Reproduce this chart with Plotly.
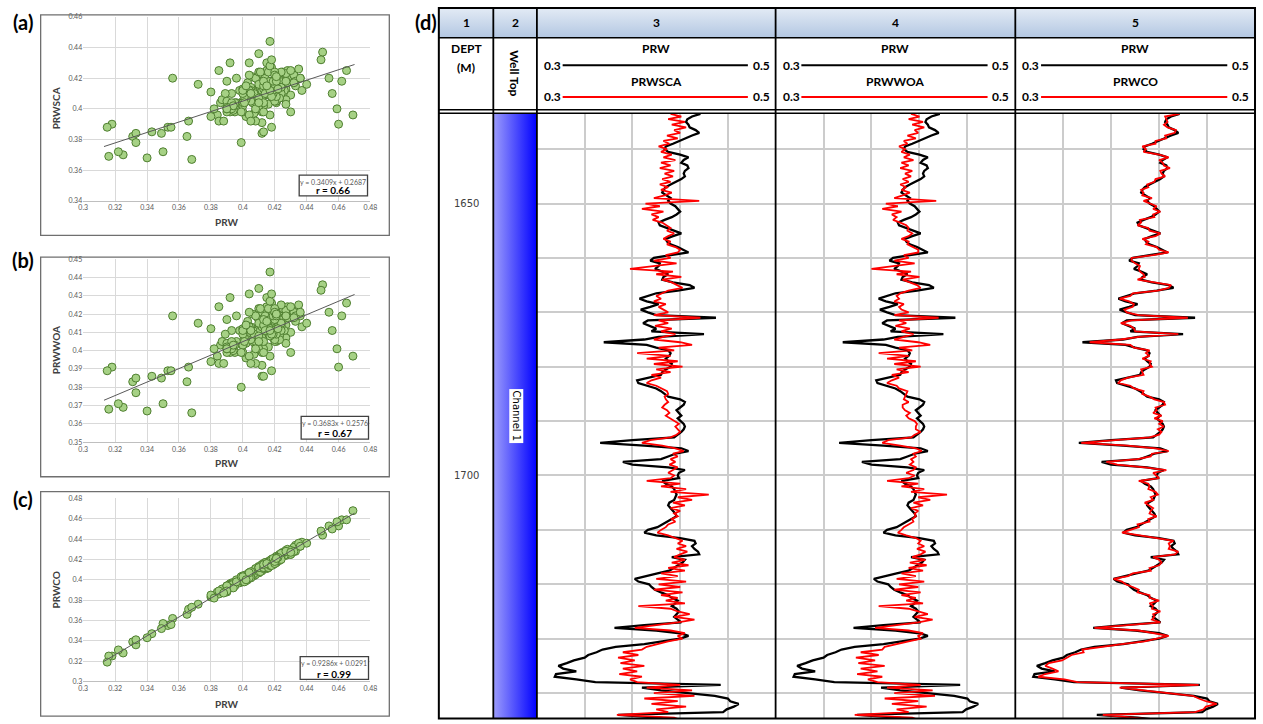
import plotly.graph_objects as go

# ---------------------------------------------------------------- data
DEPTH_TOP = 1633.5          # first log sample (m)
DEPTH_STEP = 0.5            # log sampling (m)

PRW = [
    0.437, 0.430, 0.426, 0.425, 0.427, 0.428, 0.433, 0.436, 0.430, 0.425,
    0.419, 0.414, 0.408, 0.407, 0.410, 0.420, 0.427, 0.423, 0.421, 0.426,
    0.427, 0.424, 0.423, 0.424, 0.421, 0.416, 0.412, 0.408, 0.406, 0.405,
    0.408, 0.412, 0.410, 0.412, 0.416, 0.418, 0.420, 0.417, 0.413, 0.407,
    0.402, 0.403, 0.409, 0.416, 0.421, 0.414, 0.408, 0.409, 0.412, 0.418,
    0.423, 0.427, 0.412, 0.398, 0.395, 0.403, 0.402, 0.399, 0.405, 0.410,
    0.406, 0.405, 0.414, 0.428, 0.432, 0.418, 0.400, 0.392, 0.386, 0.392,
    0.402, 0.395, 0.387, 0.393, 0.400, 0.450, 0.393, 0.389, 0.394, 0.400,
    0.396, 0.440, 0.402, 0.390, 0.356, 0.392, 0.400, 0.410, 0.412, 0.411,
    0.408, 0.410, 0.413, 0.412, 0.408, 0.405, 0.404, 0.395, 0.384, 0.385,
    0.393, 0.400, 0.404, 0.407, 0.410, 0.420, 0.424, 0.423, 0.420, 0.417,
    0.419, 0.421, 0.418, 0.421, 0.423, 0.424, 0.423, 0.421, 0.418, 0.415,
    0.380, 0.353, 0.390, 0.421, 0.427, 0.416, 0.410, 0.404, 0.372, 0.380,
    0.410, 0.424, 0.419, 0.418, 0.419, 0.405, 0.408, 0.413, 0.415, 0.416,
    0.417, 0.416, 0.415, 0.411, 0.410, 0.412, 0.414, 0.416, 0.417, 0.413,
    0.410, 0.405, 0.401, 0.393, 0.390, 0.400, 0.420, 0.432, 0.433, 0.430,
    0.432, 0.435, 0.436, 0.413, 0.424, 0.422, 0.418, 0.414, 0.411, 0.401,
    0.390, 0.382, 0.385, 0.394, 0.396, 0.399, 0.404, 0.410, 0.413, 0.418,
    0.416, 0.413, 0.417, 0.419, 0.417, 0.415, 0.418, 0.421, 0.390, 0.365,
    0.400, 0.420, 0.427, 0.420, 0.405, 0.390, 0.366, 0.355, 0.350, 0.343,
    0.340, 0.331, 0.325, 0.318, 0.322, 0.333, 0.316, 0.315, 0.333, 0.349,
    0.454, 0.388, 0.404, 0.430, 0.449, 0.460, 0.462, 0.469, 0.465, 0.459,
    0.456, 0.368, 0.402, 0.421,
]

PRWSCA = [
    0.412, 0.421, 0.410, 0.424, 0.413, 0.425, 0.415, 0.420, 0.409, 0.418,
    0.406, 0.411, 0.402, 0.409, 0.404, 0.413, 0.406, 0.416, 0.404, 0.412,
    0.403, 0.415, 0.407, 0.414, 0.405, 0.412, 0.403, 0.410, 0.404, 0.413,
    0.407, 0.398, 0.436, 0.391, 0.403, 0.388, 0.406, 0.396, 0.402, 0.397,
    0.405, 0.408, 0.412, 0.409, 0.415, 0.410, 0.406, 0.412, 0.409, 0.416,
    0.420, 0.418, 0.408, 0.412, 0.398, 0.417, 0.395, 0.378, 0.414, 0.400,
    0.421, 0.405, 0.413, 0.417, 0.422, 0.410, 0.405, 0.400, 0.404, 0.398,
    0.408, 0.402, 0.406, 0.410, 0.398, 0.437, 0.402, 0.410, 0.399, 0.413,
    0.404, 0.416, 0.406, 0.398, 0.420, 0.430, 0.402, 0.415, 0.384, 0.412,
    0.392, 0.418, 0.398, 0.422, 0.400, 0.412, 0.396, 0.404, 0.396, 0.392,
    0.400, 0.404, 0.409, 0.410, 0.407, 0.408, 0.410, 0.407, 0.405, 0.409,
    0.411, 0.408, 0.412, 0.415, 0.419, 0.416, 0.418, 0.420, 0.417, 0.412,
    0.395, 0.388, 0.405, 0.416, 0.423, 0.414, 0.418, 0.412, 0.416, 0.411,
    0.418, 0.414, 0.410, 0.415, 0.412, 0.392, 0.420, 0.404, 0.425, 0.412,
    0.444, 0.418, 0.430, 0.414, 0.424, 0.412, 0.420, 0.415, 0.418, 0.413,
    0.416, 0.410, 0.408, 0.404, 0.401, 0.410, 0.416, 0.422, 0.418, 0.425,
    0.417, 0.426, 0.420, 0.415, 0.424, 0.413, 0.427, 0.410, 0.424, 0.404,
    0.418, 0.400, 0.425, 0.402, 0.420, 0.398, 0.422, 0.404, 0.418, 0.408,
    0.424, 0.385, 0.412, 0.418, 0.428, 0.415, 0.432, 0.418, 0.400, 0.382,
    0.412, 0.424, 0.418, 0.422, 0.410, 0.400, 0.392, 0.388, 0.372, 0.385,
    0.368, 0.382, 0.370, 0.390, 0.372, 0.384, 0.369, 0.388, 0.378, 0.384,
    0.420, 0.392, 0.430, 0.398, 0.432, 0.390, 0.418, 0.396, 0.425, 0.400,
    0.410, 0.367, 0.415, 0.421,
]

PRWWOA = [
    0.413, 0.420, 0.411, 0.423, 0.414, 0.424, 0.416, 0.419, 0.410, 0.417,
    0.407, 0.410, 0.403, 0.408, 0.405, 0.412, 0.407, 0.415, 0.405, 0.411,
    0.404, 0.414, 0.408, 0.413, 0.406, 0.411, 0.404, 0.409, 0.405, 0.412,
    0.406, 0.399, 0.434, 0.392, 0.402, 0.389, 0.405, 0.397, 0.401, 0.398,
    0.404, 0.409, 0.411, 0.410, 0.414, 0.411, 0.405, 0.411, 0.410, 0.415,
    0.419, 0.419, 0.407, 0.411, 0.399, 0.416, 0.396, 0.380, 0.413, 0.401,
    0.420, 0.406, 0.412, 0.418, 0.421, 0.411, 0.404, 0.401, 0.403, 0.399,
    0.407, 0.403, 0.405, 0.411, 0.399, 0.436, 0.403, 0.409, 0.400, 0.412,
    0.405, 0.415, 0.407, 0.399, 0.419, 0.429, 0.403, 0.414, 0.386, 0.411,
    0.393, 0.417, 0.399, 0.421, 0.401, 0.411, 0.397, 0.403, 0.397, 0.393,
    0.401, 0.403, 0.410, 0.409, 0.408, 0.407, 0.411, 0.406, 0.406, 0.408,
    0.412, 0.409, 0.411, 0.416, 0.418, 0.417, 0.417, 0.421, 0.416, 0.413,
    0.394, 0.389, 0.404, 0.417, 0.422, 0.415, 0.417, 0.413, 0.415, 0.412,
    0.417, 0.415, 0.409, 0.416, 0.411, 0.393, 0.419, 0.405, 0.424, 0.413,
    0.443, 0.419, 0.429, 0.415, 0.423, 0.413, 0.419, 0.416, 0.417, 0.414,
    0.415, 0.411, 0.407, 0.405, 0.402, 0.409, 0.417, 0.421, 0.419, 0.424,
    0.418, 0.425, 0.421, 0.414, 0.425, 0.412, 0.426, 0.411, 0.423, 0.405,
    0.417, 0.401, 0.424, 0.403, 0.419, 0.399, 0.421, 0.405, 0.417, 0.409,
    0.423, 0.386, 0.411, 0.419, 0.427, 0.416, 0.431, 0.419, 0.401, 0.383,
    0.411, 0.423, 0.419, 0.421, 0.411, 0.401, 0.391, 0.389, 0.371, 0.386,
    0.367, 0.383, 0.369, 0.391, 0.371, 0.385, 0.368, 0.389, 0.377, 0.385,
    0.421, 0.393, 0.431, 0.399, 0.433, 0.391, 0.419, 0.397, 0.426, 0.401,
    0.411, 0.366, 0.414, 0.420,
]

PRWCO = [
    0.437, 0.425, 0.426, 0.427, 0.424, 0.427, 0.434, 0.433, 0.425, 0.426,
    0.417, 0.417, 0.406, 0.409, 0.407, 0.420, 0.428, 0.420, 0.423, 0.424,
    0.429, 0.421, 0.422, 0.425, 0.417, 0.416, 0.410, 0.411, 0.405, 0.407,
    0.406, 0.414, 0.407, 0.413, 0.418, 0.415, 0.421, 0.415, 0.416, 0.404,
    0.405, 0.402, 0.411, 0.412, 0.421, 0.417, 0.406, 0.411, 0.409, 0.418,
    0.420, 0.428, 0.415, 0.397, 0.397, 0.400, 0.404, 0.403, 0.404, 0.407,
    0.408, 0.402, 0.415, 0.430, 0.428, 0.419, 0.398, 0.396, 0.387, 0.395,
    0.399, 0.398, 0.391, 0.393, 0.403, 0.444, 0.397, 0.388, 0.396, 0.399,
    0.400, 0.436, 0.403, 0.388, 0.362, 0.396, 0.399, 0.412, 0.409, 0.412,
    0.406, 0.413, 0.412, 0.414, 0.405, 0.406, 0.407, 0.394, 0.388, 0.386,
    0.396, 0.399, 0.407, 0.406, 0.412, 0.416, 0.424, 0.425, 0.417, 0.418,
    0.415, 0.422, 0.416, 0.423, 0.420, 0.424, 0.419, 0.422, 0.420, 0.412,
    0.383, 0.355, 0.394, 0.417, 0.428, 0.414, 0.413, 0.402, 0.376, 0.385,
    0.408, 0.426, 0.415, 0.418, 0.420, 0.403, 0.411, 0.412, 0.411, 0.417,
    0.419, 0.413, 0.415, 0.408, 0.412, 0.415, 0.413, 0.412, 0.418, 0.411,
    0.412, 0.402, 0.403, 0.395, 0.389, 0.404, 0.417, 0.432, 0.428, 0.429,
    0.428, 0.436, 0.433, 0.415, 0.420, 0.422, 0.420, 0.412, 0.413, 0.398,
    0.394, 0.382, 0.389, 0.392, 0.398, 0.403, 0.402, 0.412, 0.412, 0.420,
    0.412, 0.415, 0.414, 0.421, 0.415, 0.416, 0.414, 0.421, 0.394, 0.366,
    0.403, 0.416, 0.428, 0.418, 0.408, 0.389, 0.371, 0.356, 0.357, 0.347,
    0.343, 0.339, 0.328, 0.325, 0.331, 0.336, 0.325, 0.319, 0.341, 0.352,
    0.453, 0.387, 0.407, 0.427, 0.448, 0.453, 0.459, 0.468, 0.459, 0.457,
    0.450, 0.373, 0.400, 0.421,
]

X_TICKS = [0.30, 0.32, 0.34, 0.36, 0.38, 0.40, 0.42, 0.44, 0.46, 0.48]
A_YTICKS = [0.34, 0.36, 0.38, 0.40, 0.42, 0.44, 0.46]
B_YTICKS = [0.35, 0.36, 0.37, 0.38, 0.39, 0.40, 0.41, 0.42, 0.43, 0.44, 0.45]
C_YTICKS = [0.30, 0.32, 0.34, 0.36, 0.38, 0.40, 0.42, 0.44, 0.46, 0.48]
FIT_SLOPES = [0.3409, 0.3683, 0.9286]
FIT_INTERCEPTS = [0.2687, 0.2576, 0.0291]
FIT_R = ["0.66", "0.67", "0.99"]
FIT_X = [0.313, 0.470]
SCATTER_NAMES = ["PRWSCA", "PRWWOA", "PRWCO"]
PANEL_LETTERS = ["(a)", "(b)", "(c)"]

TRACK_NUMBERS = ["1", "2", "3", "4", "5"]
TRACK_SCALE = [0.3, 0.5]
DEPTH_LABELS = [1650, 1700]
WELL_TOP_NAME = "Channel 1"
WELL_TOP_CENTER = 1689.0

# ---------------------------------------------------------------- helpers
W, H = 1263, 724
LATO = "Lato, 'Open Sans', sans-serif"


def px(x):
    return x / W


def py(y):
    return 1 - y / H


n = min(len(PRW), len(PRWSCA), len(PRWWOA), len(PRWCO))
DEPTH = [DEPTH_TOP + i * DEPTH_STEP for i in range(n)]
SERIES = [PRWSCA[:n], PRWWOA[:n], PRWCO[:n]]
PRWn = PRW[:n]

fig = go.Figure()
shapes = []
ann = []


def rect(x0, y0, x1, y1, color, width, fill="rgba(0,0,0,0)"):
    shapes.append(dict(type="rect", xref="paper", yref="paper",
                       x0=px(x0), x1=px(x1), y0=py(y1), y1=py(y0),
                       line=dict(color=color, width=width), fillcolor=fill,
                       layer="above"))


def seg(x0, y0, x1, y1, color, width):
    shapes.append(dict(type="line", xref="paper", yref="paper",
                       x0=px(x0), x1=px(x1), y0=py(y0), y1=py(y1),
                       line=dict(color=color, width=width), layer="above"))


def text(x, y, s, size, color="black", bold=False, angle=0, family=LATO,
         bg=None, xanchor="center"):
    a = dict(x=px(x), y=py(y), xref="paper", yref="paper", showarrow=False,
             text=f"<b>{s}</b>" if bold else s, textangle=angle,
             xanchor=xanchor, yanchor="middle",
             font=dict(size=size, color=color, family=family))
    if bg:
        a.update(bgcolor=bg, borderpad=1)
    ann.append(a)


layout_axes = {}

# ---------------------------------------------------------------- scatter panels
PANELS = [
    dict(frame=(36, 10, 388, 233), plot=(79, 12, 369, 198), eq=(297, 172, 366, 193),
         xt=219, yticks=A_YTICKS, letter_y=17),
    dict(frame=(36, 255, 388, 477), plot=(79, 257, 369, 442), eq=(299, 416, 367, 439),
         xt=463, yticks=B_YTICKS, letter_y=258),
    dict(frame=(36, 492, 388, 719), plot=(79, 499, 369, 684), eq=(298, 659, 367, 682),
         xt=707, yticks=C_YTICKS, letter_y=500),
]

for i, p in enumerate(PANELS):
    k = "" if i == 0 else str(i + 1)
    xr, yr = "x" + k, "y" + k
    x0, y0, x1, y1 = p["plot"]
    yt = p["yticks"]
    layout_axes["xaxis" + k] = dict(
        domain=[px(x0), px(x1)], range=[X_TICKS[0], X_TICKS[-1]], anchor=yr,
        tickvals=X_TICKS, ticktext=[f"{v:g}" for v in X_TICKS],
        showgrid=True, gridcolor="#d9d9d9", gridwidth=1, zeroline=False,
        showline=True, linecolor="#bfbfbf", linewidth=1, ticks="",
        tickfont=dict(size=7, color="#595959", family=LATO))
    layout_axes["yaxis" + k] = dict(
        domain=[py(y1), py(y0)], range=[yt[0], yt[-1]], anchor=xr,
        tickvals=yt, ticktext=[f"{v:g}" for v in yt],
        showgrid=True, gridcolor="#d9d9d9", gridwidth=1, zeroline=False,
        showline=False, ticks="",
        tickfont=dict(size=7, color="#595959", family=LATO))
    fig.add_trace(go.Scatter(
        x=PRWn, y=SERIES[i], mode="markers", xaxis=xr, yaxis=yr,
        marker=dict(size=8, color="#a6d185", line=dict(color="#4f7f30", width=1)),
        showlegend=False, hoverinfo="skip"))
    m, b = FIT_SLOPES[i], FIT_INTERCEPTS[i]
    fig.add_trace(go.Scatter(
        x=FIT_X, y=[m * FIT_X[0] + b, m * FIT_X[1] + b], mode="lines",
        xaxis=xr, yaxis=yr, line=dict(color="#595959", width=1),
        showlegend=False, hoverinfo="skip"))
    fx0, fy0, fx1, fy1 = p["frame"]
    rect(fx0, fy0, fx1, fy1, "#6f6f6f", 1.3)
    ex0, ey0, ex1, ey1 = p["eq"]
    rect(ex0, ey0, ex1, ey1, "#404040", 1.3, fill="white")
    text((ex0 + ex1) / 2, ey0 + 6.5, f"y = {m:.4f}x + {b:.4f}", 7, color="#595959")
    text((ex0 + ex1) / 2, ey1 - 6, f"r = {FIT_R[i]}", 10, bold=True)
    text((x0 + x1) / 2, p["xt"], "PRW", 10, color="#404040", bold=True)
    text(51, (y0 + y1) / 2, SCATTER_NAMES[i], 10, color="#404040", bold=True, angle=-90)
    text(18, p["letter_y"], PANEL_LETTERS[i], 20, bold=True)

# ---------------------------------------------------------------- log tracks
LEFT, RIGHT = 438, 1262
TOP, HEAD1, HEAD2, DATA_TOP, BOTTOM = 3, 33, 106, 110, 721.5
COLS = [438, 493, 537, 778, 1020, 1262]
PX_PER_M = 5.5
depth_range = [DEPTH_TOP + (BOTTOM - DATA_TOP) / PX_PER_M, DEPTH_TOP]

for j in range(3):
    k = str(4 + j)
    xr, yr = "x" + k, "y" + k
    layout_axes["xaxis" + k] = dict(
        domain=[px(COLS[2 + j]), px(COLS[3 + j])], range=TRACK_SCALE, anchor=yr,
        tick0=TRACK_SCALE[0], dtick=0.04, showgrid=True, gridcolor="#cccccc",
        gridwidth=1.5, showticklabels=False, zeroline=False, ticks="", showline=False)
    layout_axes["yaxis" + k] = dict(
        domain=[py(BOTTOM), py(DATA_TOP)], range=depth_range, anchor=xr,
        tick0=1630, dtick=10, showgrid=True, gridcolor="#cccccc", gridwidth=1.5,
        showticklabels=False, zeroline=False, ticks="", showline=False)
    fig.add_trace(go.Scatter(x=PRWn, y=DEPTH, mode="lines", xaxis=xr, yaxis=yr,
                             line=dict(color="black", width=2.3),
                             showlegend=False, hoverinfo="skip"))
    fig.add_trace(go.Scatter(x=SERIES[j], y=DEPTH, mode="lines", xaxis=xr, yaxis=yr,
                             line=dict(color="#ff0000", width=1.8),
                             showlegend=False, hoverinfo="skip"))

# well-top gradient bar (track 2)
layout_axes["xaxis7"] = dict(domain=[px(COLS[1]), px(COLS[2])], range=[0, 1],
                             visible=False, anchor="y7")
layout_axes["yaxis7"] = dict(domain=[py(BOTTOM), py(DATA_TOP)], range=[0, 1],
                             visible=False, anchor="x7")
fig.add_trace(go.Scatter(x=[0, 1, 1, 0, 0], y=[0, 0, 1, 1, 0], mode="lines",
                         xaxis="x7", yaxis="y7", fill="toself",
                         fillgradient=dict(type="horizontal",
                                           colorscale=[[0, "#9d9dfb"], [1, "#0000ff"]]),
                         line=dict(width=0), showlegend=False, hoverinfo="skip"))

# header row-1 gradient
layout_axes["xaxis8"] = dict(domain=[px(LEFT), px(RIGHT)], range=[0, 1],
                             visible=False, anchor="y8")
layout_axes["yaxis8"] = dict(domain=[py(HEAD1), py(TOP)], range=[0, 1],
                             visible=False, anchor="x8")
fig.add_trace(go.Scatter(x=[0, 1, 1, 0, 0], y=[0, 0, 1, 1, 0], mode="lines",
                         xaxis="x8", yaxis="y8", fill="toself",
                         fillgradient=dict(type="vertical",
                                           colorscale=[[0, "#b3c7e2"], [1, "#e3ebf5"]]),
                         line=dict(width=0), showlegend=False, hoverinfo="skip"))

# table lines
rect(LEFT, TOP, RIGHT, BOTTOM, "black", 2)
seg(LEFT, HEAD1, RIGHT, HEAD1, "black", 1.5)
seg(LEFT, HEAD2, RIGHT, HEAD2, "black", 1.5)
seg(LEFT, DATA_TOP - 0.5, RIGHT, DATA_TOP - 0.5, "black", 1.5)
for c in COLS[1:-1]:
    seg(c, TOP, c, BOTTOM, "black", 1.8)

# header texts
centers = [(COLS[i] + COLS[i + 1]) / 2 for i in range(5)]
for i, t in enumerate(TRACK_NUMBERS):
    text(centers[i], 18, t, 12, bold=True)
text(centers[0], 44, "DEPT", 12, bold=True)
text(centers[0], 63, "(M)", 12, bold=True)
text(centers[1], 69, "Well Top", 12, bold=True, angle=90)
for j in range(3):
    c0, c1 = COLS[2 + j], COLS[3 + j]
    cx = (c0 + c1) / 2
    text(cx, 44, "PRW", 12, bold=True)
    text(cx, 77, SCATTER_NAMES[j], 12, bold=True)
    for yy, col in ((61, "black"), (93, "#ff0000")):
        text(c0 + 5, yy, f"{TRACK_SCALE[0]:g}", 12, bold=True, xanchor="left")
        text(c1 - 4, yy, f"{TRACK_SCALE[1]:g}", 12, bold=True, xanchor="right")
        seg(c0 + 26, yy, c1 - 28, yy, col, 2)

# depth labels
for d in DEPTH_LABELS:
    ann.append(dict(x=px(centers[0]), y=d, xref="paper", yref="y4", showarrow=False,
                    text=str(d), font=dict(size=10, color="#404040",
                                           family="DejaVu Sans, sans-serif"),
                    xanchor="center", yanchor="middle"))
# well-top label
ann.append(dict(x=px(516), y=WELL_TOP_CENTER, xref="paper", yref="y4", showarrow=False,
                text=WELL_TOP_NAME, textangle=90, bgcolor="white", borderpad=1,
                font=dict(size=10, color="black", family="DejaVu Sans, sans-serif"),
                xanchor="center", yanchor="middle"))
text(425, 17, "(d)", 20, bold=True)

fig.update_layout(
    width=W, height=H, margin=dict(l=0, r=0, t=0, b=0),
    paper_bgcolor="white", plot_bgcolor="white", showlegend=False,
    hovermode=False, shapes=shapes, annotations=ann, **layout_axes)

fig.write_html("out.html",
               config={"displayModeBar": False},
               post_script="document.body.style.margin='0';"
                           "document.body.style.overflow='hidden';")
